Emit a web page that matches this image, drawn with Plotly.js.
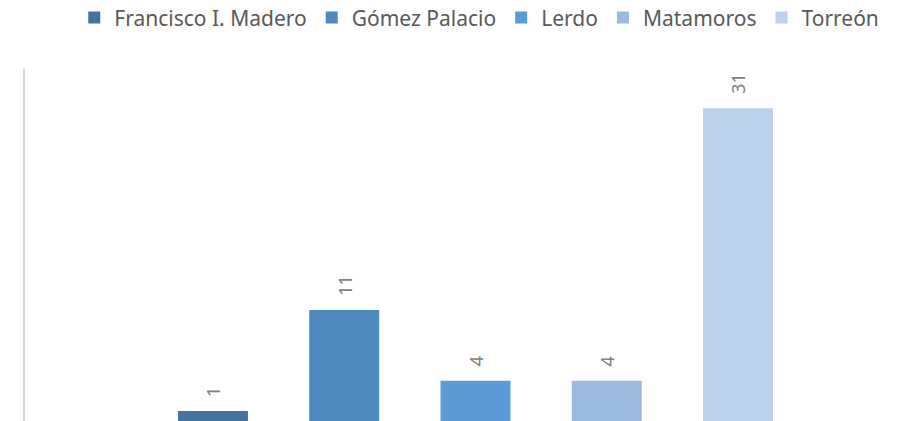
<!DOCTYPE html>
<html>
<head>
<meta charset="utf-8">
<script src="https://cdn.plot.ly/plotly-3.0.1.min.js"></script>
<style>html,body{margin:0;padding:0;background:#fff;}#chart{width:900px;height:421px;}</style>
</head>
<body>
<div id="chart"></div>
<script>
const categories = ["Francisco I. Madero", "Gómez Palacio", "Lerdo", "Matamoros", "Torreón"];
const values = [1, 11, 4, 4, 31];
const colors = ["#44739F", "#4E8ABE", "#5B9BD5", "#9BBAE0", "#BDD1EA"];

const traces = categories.map((c, i) => ({
  type: "bar",
  name: c,
  x: [i],
  y: [values[i]],
  width: 0.533,
  marker: { color: colors[i], line: { width: 0 } },
  hoverinfo: "none"
}));

const annotations = categories.map((c, i) => ({
  x: i,
  y: values[i],
  xref: "x",
  yref: "y",
  text: String(values[i]),
  showarrow: false,
  textangle: -90,
  yanchor: "bottom",
  xanchor: "center",
  yshift: 12,
  font: { family: "'Noto Sans', 'Open Sans', sans-serif", size: 18, color: "#808080" }
}));

const layout = {
  width: 900,
  height: 421,
  margin: { l: 25, r: 0, t: 68, b: 0, autoexpand: false },
  paper_bgcolor: "#ffffff",
  plot_bgcolor: "#ffffff",
  barmode: "overlay",
  showlegend: true,
  legend: {
    orientation: "h",
    x: 0.982,
    xanchor: "right",
    y: 1.2,
    yanchor: "top",
    font: { family: "'Noto Sans', 'Open Sans', sans-serif", size: 21, color: "#595959" },
    traceorder: "normal",
    itemclick: false
  },
  xaxis: {
    range: [-1.432, 5.234],
    showticklabels: false,
    showgrid: false,
    zeroline: false,
    showline: false,
    ticks: ""
  },
  yaxis: {
    range: [0, 35],
    showticklabels: false,
    showgrid: false,
    zeroline: false,
    showline: true,
    linecolor: "#D9D9D9",
    linewidth: 2,
    ticks: ""
  },
  annotations: annotations
};

Plotly.newPlot("chart", traces, layout, { displayModeBar: false, staticPlot: true });
</script>
</body>
</html>
